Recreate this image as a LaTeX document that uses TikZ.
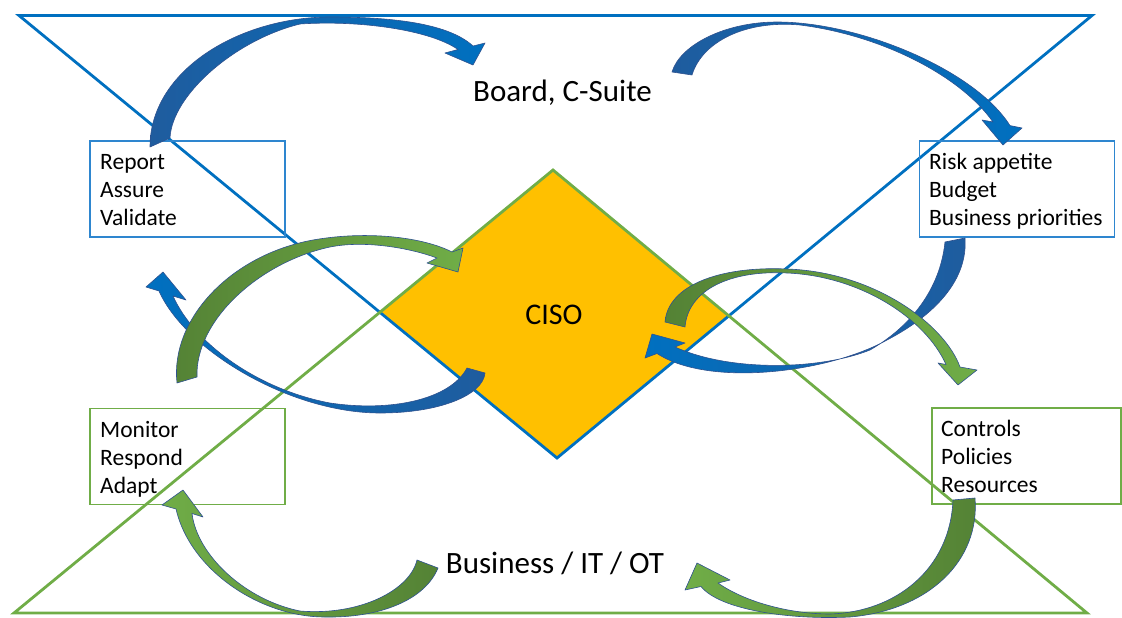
\documentclass[tikz,border=0pt]{standalone}
\usepackage{fontspec}
\newfontfamily\calfont{Carlito}
\definecolor{tblue}{HTML}{0070C0}
\definecolor{dblue}{HTML}{1F5C9E}
\definecolor{lgreen}{HTML}{70AD47}
\definecolor{dgreen}{HTML}{548235}
\definecolor{aoutline}{HTML}{2F528F}
\definecolor{bblue}{HTML}{2E86CF}
\definecolor{cisoorange}{HTML}{FFC000}
\tikzset{
  tri/.style={line width=2.8pt, line join=miter},
  blubox/.style={draw=bblue, line width=1.3pt, inner sep=0pt, minimum width=195pt, minimum height=96pt},
  grnbox/.style={draw=lgreen, line width=1.3pt, inner sep=0pt, minimum width=195pt, minimum height=96pt},
  boxtext/.style={font=\calfont\fontsize{23.5}{28}\selectfont, align=left, anchor=base west, inner sep=0pt},
  title/.style={font=\calfont\fontsize{31}{37}\selectfont, anchor=base, inner sep=0pt},
  cisotext/.style={font=\calfont\fontsize{30}{36}\selectfont, anchor=base, inner sep=0pt},
  bluearrow/.style={draw=aoutline, line width=0.6pt, line join=round},
  grnarrow/.style={draw=aoutline, line width=0.6pt, line join=round}
}
\begin{document}
\begin{tikzpicture}[x=1pt, y=-1pt]
\useasboundingbox (0,0) rectangle (1122,618);
% triangles and diamond
\coordinate (bl) at (19,15.5);
\coordinate (br) at (1092,15.5);
\coordinate (bapex) at (557,458);
\coordinate (gl) at (14,613);
\coordinate (gr) at (1087,613);
\coordinate (gapex) at (553,170);
\coordinate (dl) at (intersection of bl--bapex and gl--gapex);
\coordinate (dr) at (intersection of br--bapex and gr--gapex);
\fill[cisoorange] (gapex) -- (dr) -- (bapex) -- (dl) -- cycle;
\draw[tri, draw=tblue] (bl) -- (br) -- (bapex) -- cycle;
\draw[tri, draw=lgreen] (gl) -- (gr) -- (gapex) -- cycle;
% boxes
\node[blubox] (reportbox) at (187.5,189) {};
\node[blubox] (riskbox) at (1017,189) {};
\node[grnbox] (monitorbox) at (187.5,456.5) {};
\node[grnbox, minimum width=189pt] (controlsbox) at (1026.5,456) {};
\node[boxtext] (reporttxt) at (100,225) {Report\\Assure\\Validate};
\node[boxtext] (risktxt) at (929,225) {Risk appetite\\Budget\\Business priorities};
\node[boxtext] (monitortxt) at (100,493) {Monitor\\Respond\\Adapt};
\node[boxtext] (controlstxt) at (941,492) {Controls\\Policies\\Resources};
% titles
\node[title] (board) at (562.5,102) {Board, C-Suite};
\node[title] (biz) at (555,573) {Business / IT / OT};
\node[cisotext] (ciso) at (554,324) {CISO};
% blue arrows
\path[bluearrow, left color=dblue, right color=tblue]
  (150,147) .. controls (150,70) and (240,17) .. (330,17)
  .. controls (400,17) and (450,25) .. (473,46)
  -- (485,43) -- (473,65) -- (445,53) -- (458,49.5)
  .. controls (430,30) and (360,20) .. (300,24)
  .. controls (235,40) and (172,95) .. (170,138) -- cycle;
\path[bluearrow, left color=dblue, right color=tblue]
  (672,72) .. controls (680,45) and (725,22) .. (777,22)
  .. controls (860,22) and (975,70) .. (1010,125.6)
  -- (1022,128) -- (1003,145) -- (982,120) -- (993,122)
  .. controls (960,75) and (880,35) .. (800,25)
  .. controls (745,20) and (702,42) .. (692,75) -- cycle;
\path[bluearrow, left color=tblue, right color=dblue]
  (965,238) .. controls (968,280) and (935,315) .. (887,340)
  .. controls (830,372) and (710,388) .. (657,353.5)
  -- (645,358) -- (652,334) -- (685,343) -- (675,347)
  .. controls (730,372) and (820,370) .. (870,350)
  .. controls (910,327) and (940,290) .. (945,242) -- cycle;
\path[bluearrow, left color=tblue, right color=dblue]
  (485,373) .. controls (483,395) and (440,413) .. (380,413)
  .. controls (290,413) and (185,350) .. (159,291)
  -- (146,287) -- (163,272) -- (186,300) -- (173,296)
  .. controls (195,345) and (260,390) .. (330,403)
  .. controls (390,412) and (450,400) .. (467,368) -- cycle;
% green arrows
\path[grnarrow, left color=dgreen, right color=lgreen]
  (665,322) .. controls (668,285) and (720,266) .. (787,269)
  .. controls (875,272) and (945,325) .. (960,367)
  -- (977,370) -- (958,385) -- (938,363) -- (946,364.5)
  .. controls (925,318) and (860,276) .. (787,273)
  .. controls (730,270) and (688,290) .. (685,327) -- cycle;
\path[grnarrow, left color=dgreen, right color=lgreen]
  (177,383) .. controls (170,320) and (230,255) .. (313,240)
  .. controls (370,230) and (425,238) .. (452,252)
  -- (463,248) -- (458,272) -- (427,263) -- (437,258)
  .. controls (410,248) and (365,240) .. (330,247)
  .. controls (260,262) and (195,320) .. (197,377) -- cycle;
\path[grnarrow, left color=lgreen, right color=dgreen]
  (438,568) .. controls (425,600) and (380,618) .. (325,617)
  .. controls (260,617) and (190,570) .. (176,509)
  -- (162,505) -- (183,490) -- (203,517) -- (192,513.5)
  .. controls (197,555) and (245,600) .. (300,611)
  .. controls (360,616) and (410,590) .. (417,560) -- cycle;
\path[grnarrow, left color=lgreen, right color=dgreen]
  (975,498) .. controls (980,560) and (930,610) .. (850,617)
  .. controls (790,620) and (720,610) .. (701,586.5)
  -- (685,590) -- (697,563) -- (730,580) -- (718,583)
  .. controls (745,602) and (790,614) .. (830,614)
  .. controls (895,612) and (950,570) .. (953,500) -- cycle;
\end{tikzpicture}
\end{document}
